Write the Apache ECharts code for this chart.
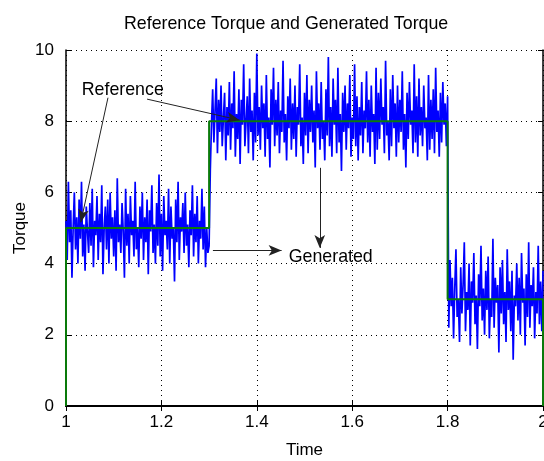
<!DOCTYPE html>
<html>
<head>
<meta charset="utf-8">
<script src="https://cdn.jsdelivr.net/npm/echarts@6/dist/echarts.min.js"></script>
<style>
  html, body { margin: 0; padding: 0; background: #fff; }
  #chart { width: 544px; height: 461px; }
</style>
</head>
<body>
<div id="chart"></div>
<script>
// sampling of the generated torque trace
const tStart = 1;
const tStep = 0.0025;

// generated torque, segment 1 (t = 1.000 .. 1.300), around 5
const genSeg1 = [
  5.2,4.1,6.3,4.6,5.5,3.6,5.0,6.0,4.4,5.3,4.0,5.8,4.7,6.3,4.2,5.1,3.8,5.6,4.9,4.3,
  5.7,4.5,6.1,3.9,5.2,4.8,5.9,4.1,5.4,4.6,6.2,3.7,5.0,5.6,4.4,5.8,4.0,6.0,4.7,5.3,
  4.2,5.5,3.8,6.4,4.6,5.1,4.3,5.7,4.9,3.6,6.1,4.5,5.4,4.0,5.9,4.8,5.2,4.2,6.3,4.4,
  5.0,3.9,5.6,4.7,6.0,4.1,5.3,4.6,5.8,3.7,5.5,4.9,6.2,4.3,5.1,4.0,5.7,4.5,6.5,4.2,
  5.4,3.8,5.9,4.8,5.2,4.4,6.1,4.0,5.6,4.7,5.0,3.5,5.8,4.6,6.3,4.1,5.3,4.9,5.7,4.3,
  6.0,4.5,5.1,3.9,5.5,4.8,6.2,4.2,5.4,4.6,5.9,4.0,5.2,4.7,6.1,4.4,5.6,3.9,5.0,4.3,4.5
];
// segment 2 (t = 1.3025 .. 1.800), around 8
const genSeg2 = [
  6.6,7.9,8.9,7.4,8.3,9.2,7.1,8.6,7.7,9.0,7.3,8.1,8.8,6.9,8.4,7.6,9.1,7.2,8.5,7.8,
  9.4,7.0,8.2,7.5,8.9,6.8,8.6,7.9,9.6,7.3,8.0,8.7,7.1,9.2,7.7,8.3,6.9,8.8,7.4,9.9,
  7.6,8.4,7.2,9.0,7.8,8.5,7.0,9.3,7.5,8.1,6.7,8.9,7.9,9.5,7.3,8.6,7.6,9.1,7.1,8.3,
  7.7,9.7,7.4,8.2,6.9,8.7,7.8,9.2,7.2,8.5,7.5,9.0,7.0,8.4,7.9,9.6,7.3,8.1,6.8,8.8,
  7.6,9.3,7.1,8.6,7.7,9.0,7.4,8.3,6.7,9.4,7.8,8.5,7.2,9.1,7.5,8.0,6.9,8.9,7.6,9.8,
  7.3,8.4,7.0,9.2,7.9,8.6,7.1,9.5,7.4,8.2,6.6,8.8,7.7,9.0,7.2,8.5,7.8,9.3,7.0,8.1,
  7.5,9.6,7.3,8.7,6.9,8.4,7.6,9.1,7.1,8.3,7.8,9.4,7.4,8.6,7.0,9.0,7.7,8.2,6.8,9.5,
  7.2,8.8,7.5,9.2,7.9,8.4,7.1,9.7,7.6,8.0,6.9,8.9,7.3,9.3,7.8,8.5,7.0,9.0,7.4,8.6,
  7.7,9.4,7.2,8.2,6.7,8.8,7.5,9.1,7.9,8.3,7.1,9.6,7.4,8.7,7.0,9.2,7.6,8.4,7.3,9.0,
  7.8,8.1,6.9,9.3,7.2,8.6,7.5,8.9,7.1,9.5,7.7,8.3,7.0,8.8,7.4,9.1,7.9,8.5,7.3,8.7
];
// segment 3 (t = 1.8025 .. 2.000), around 3
const genSeg3 = [
  2.2,4.1,2.8,3.6,1.9,3.3,4.4,2.5,3.0,1.8,3.9,2.6,3.4,4.6,2.1,3.2,2.7,4.0,1.7,3.5,
  2.9,4.3,2.3,3.1,1.6,3.7,2.8,4.5,2.4,3.3,2.0,3.8,2.7,4.2,1.9,3.0,2.5,4.7,2.2,3.6,
  2.9,3.4,1.5,3.9,2.6,4.1,2.3,3.2,1.8,4.4,2.7,3.5,2.1,3.8,1.3,3.1,2.8,4.0,2.4,3.6,
  2.0,4.3,2.9,3.3,1.7,3.7,2.5,4.6,2.2,3.4,2.8,3.9,1.9,3.2,2.6,4.5,2.3,3.5,2.1,3.8
];

// reference torque steps
const refTimes = [1, 1, 1.3, 1.3, 1.8, 1.8, 2, 2];
const refValues = [0, 5, 5, 8, 8, 3, 3, 0];

// annotations: [label, x, y] and arrows [x0, y0, x1, y1]
const labels = [
  ["Reference", 1.119, 8.88],
  ["Generated", 1.555, 4.19]
];
const arrows = [
  [1.088, 8.66, 1.031, 5.16],
  [1.170, 8.62, 1.364, 8.03],
  [1.308, 4.37, 1.452, 4.37],
  [1.532, 6.69, 1.532, 4.44]
];

const xTicks = { min: 1, max: 2, interval: 0.2 };
const yTicks = { min: 0, max: 10, interval: 2 };

const genValues = genSeg1.concat(genSeg2, genSeg3);
const genData = genValues.map((v, i) => [tStart + i * tStep, v]);
const refData = refTimes.map((t, i) => [t, refValues[i]]);

const font = "Liberation Sans, Arial, sans-serif";
const chart = echarts.init(document.getElementById("chart"), null, { renderer: "canvas" });

const dotted = { show: true, lineStyle: { color: "#000", width: 1, type: [1, 4] } };

chart.setOption({
  animation: false,
  title: {
    text: "Reference Torque and Generated Torque",
    left: 119,
    top: 10,
    textStyle: { fontFamily: font, fontSize: 17.8, fontWeight: "normal", color: "#000" }
  },
  grid: { left: 66, right: 1, top: 50, bottom: 55, containLabel: false, outerBoundsMode: "none" },
  xAxis: [
    {
      type: "value",
      ...xTicks,
      name: "Time",
      nameLocation: "middle",
      nameGap: 36,
      nameMoveOverlap: false,
      nameTextStyle: { fontFamily: font, fontSize: 17, color: "#000" },
      axisLine: { lineStyle: { color: "#000", width: 2 } },
      axisTick: { inside: true, length: 5, lineStyle: { color: "#000" } },
      axisLabel: { fontFamily: font, fontSize: 17, color: "#000", margin: 8 },
      splitLine: dotted
    },
    {
      type: "value",
      ...xTicks,
      position: "top",
      axisLine: { lineStyle: { color: "#000", width: 2 } },
      axisTick: { inside: true, length: 5, lineStyle: { color: "#000" } },
      axisLabel: { show: false },
      splitLine: { show: false }
    }
  ],
  yAxis: [
    {
      type: "value",
      ...yTicks,
      name: "Torque",
      nameLocation: "middle",
      nameGap: 37,
      nameMoveOverlap: false,
      nameTextStyle: { fontFamily: font, fontSize: 17, color: "#000" },
      axisLine: { show: true, lineStyle: { color: "#000", width: 1.5 } },
      axisTick: { show: true, inside: true, length: 5, lineStyle: { color: "#000" } },
      axisLabel: { fontFamily: font, fontSize: 17, color: "#000", margin: 12 },
      splitLine: dotted
    },
    {
      type: "value",
      ...yTicks,
      position: "right",
      axisLine: { show: true, lineStyle: { color: "#000", width: 1.5 } },
      axisTick: { show: true, inside: true, length: 5, lineStyle: { color: "#000" } },
      axisLabel: { show: false },
      splitLine: { show: false }
    }
  ],
  series: [
    {
      name: "Generated",
      type: "line",
      data: genData,
      showSymbol: false,
      sampling: "none",
      lineStyle: { color: "#0000ff", width: 1.7 },
      z: 2
    },
    {
      name: "Reference",
      type: "line",
      data: refData,
      showSymbol: false,
      lineStyle: { color: "#0a7a0a", width: 2 },
      z: 3,
      markLine: {
        silent: true,
        symbol: ["none", "arrow"],
        symbolSize: [8, 13],
        label: { show: false },
        lineStyle: { color: "#222", width: 1, type: "solid" },
        data: arrows.map((a) => [{ coord: [a[0], a[1]] }, { coord: [a[2], a[3]] }])
      },
      markPoint: {
        silent: true,
        symbol: "rect",
        symbolSize: 1,
        itemStyle: { color: "rgba(0,0,0,0)" },
        label: {
          show: true,
          position: "inside",
          fontFamily: font,
          fontSize: 17.8,
          color: "#000",
          formatter: (p) => p.name
        },
        data: labels.map((l) => ({ name: l[0], coord: [l[1], l[2]] }))
      }
    }
  ]
});
</script>
</body>
</html>
